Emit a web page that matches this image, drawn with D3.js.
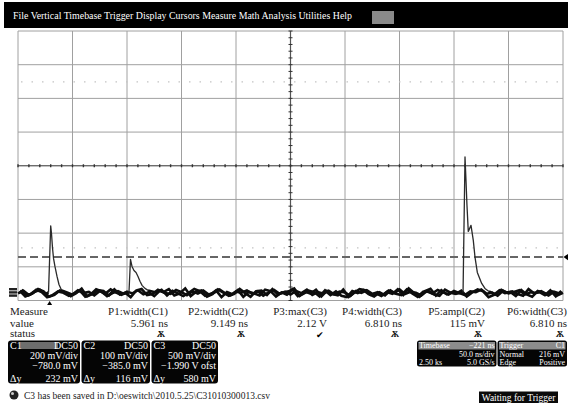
<!DOCTYPE html>
<html>
<head>
<meta charset="utf-8">
<script src="https://cdn.jsdelivr.net/npm/d3@7"></script>
<style>
  html, body { margin: 0; padding: 0; background: #fff; }
  svg { display: block; }
  text { font-family: "Liberation Serif", "Times New Roman", serif; }
</style>
</head>
<body>
<svg id="scope" width="568" height="405"></svg>
<script>
// ---- Menu bar ----
const menuItems = ["File", "Vertical", "Timebase", "Trigger", "Display", "Cursors",
                   "Measure", "Math", "Analysis", "Utilities", "Help"];

// ---- Acquisition settings ----
const timePerDiv = 50;          // ns/div
const divisionsX = 10;
const divisionsY = 8;
const timebaseDelay = -221;     // ns
const sampleStep = 5;           // ns between stored baseline samples
const sampleStart = [0, 1.7, 3.4];  // ns, time of first stored sample per channel

// ---- Channels ----
const channelNames = ["C1", "C2", "C3"];
const channelCoupling = ["DC50", "DC50", "DC50"];
const channelScale = [200, 100, 500];          // mV/div
const channelOffset = [-780, -385, -1990];     // mV
const channelScaleText = ["200 mV/div", "100 mV/div", "500 mV/div"];
const channelOffsetText = ["\u2212780.0 mV", "\u2212385.0 mV", "\u22121.990 V ofst"];
const channelDeltaY = ["232 mV", "116 mV", "580 mV"];

// baseline samples (mV), one every sampleStep ns
const c1Baseline = [22,38,12,30,44,18,26,8,35,28, 15,40,24,31,10,36,20,46,27,14,
                    33,22,41,17,29,6,37,25,19,43, 30,12,34,21,39,16,27,45,23,11,
                    32,26,40,18,35,9,28,42,20,31, 15,37,24,44,13,30,22,38,17,33,
                    27,7,36,25,41,19,29,14,39,23, 46,18,32,26,10,35,21,43,28,16,
                    37,24,12,34,30,45,20,27,9,38, 22,31,41,15,29,25,36,18,33,11, 26];
const c2Baseline = [14,-3,4,17,10,-5,1,12,8,-1, 6,15,-4,3,18,11,-2,7,13,5,
                    -3,16,12,2,-4,9,17,0,14,6, -2,8,19,13,-1,3,15,-5,10,4,
                    16,-4,11,6,0,17,13,-3,9,2, 18,-2,5,14,10,-3,15,1,12,-1,
                    -5,13,7,16,4,-3,9,0,15,5, 1,18,6,-4,11,13,3,-1,17,8,
                    5,14,-3,9,18,12,-5,2,15,7, 10,-2,16,3,-4,13,8,0,11,6, 7];
const c3Baseline = [150,60,95,160,125,45,75,140,110,55, 100,165,50,90,145,130,65,155,80,105,
                    40,135,160,70,85,150,115,158,65,95, 170,55,120,140,48,85,155,105,60,90,
                    162,100,45,128,138,72,158,80,112,125, 168,58,118,92,148,52,132,86,66,152,
                    42,104,160,144,74,96,56,116,88,156, 70,170,102,46,130,164,62,142,82,112,
                    94,146,166,50,120,136,44,78,150,108, 124,86,60,160,98,114,68,142,52,132, 100];

// pulse samples [time ns, mV]
const c1Pulse = [[28.0, 28], [30.0, 423], [30.7, 381], [31.7, 289], [32.6, 230],
                 [33.9, 182], [35.8, 123], [37.6, 75], [40.1, 39]];
const c2Pulse = [[101.8, 9], [103.2, 107], [104.6, 86], [106.4, 74], [108.3, 68],
                 [110.1, 56], [111.9, 42], [113.8, 30], [116.5, 21], [119.3, 15]];
const c3Pulse = [[408.3, 109], [410.1, 2120], [411.0, 1774], [411.9, 1403], [413.1, 1016],
                 [414.0, 1046], [415.6, 1105], [417.7, 882], [419.3, 629], [421.4, 406],
                 [425.4, 243], [428.4, 169], [432.1, 124]];

// ---- Markers on the graticule (in divisions) ----
const cursorLevels = [2.49, -2.44];
const triggerMarkerLevel = -2.71;

// ---- Measurements ----
const measureNames = ["P1:width(C1)", "P2:width(C2)", "P3:max(C3)", "P4:width(C3)", "P5:ampl(C2)", "P6:width(C3)"];
const measureValues = ["5.961 ns", "9.149 ns", "2.12 V", "6.810 ns", "115 mV", "6.810 ns"];
const measureStatus = ["warn", "warn", "ok", "warn", "warn", "warn"];

// ---- Timebase / trigger panels ----
const timebaseRows = [["Timebase", "\u2212221 ns"], ["", "50.0 ns/div"], ["2.50 ks", "5.0 GS/s"]];
const triggerRows = [["Trigger", "C1"], ["Normal", "216 mV"], ["Edge", "Positive"]];
const statusMessage = "C3 has been saved in D:\\oeswitch\\2010.5.25\\C31010300013.csv";
const acquisitionState = "Waiting for Trigger";

// ================= drawing =================
const svg = d3.select("#scope");

const gx0 = 18, gx1 = 563, gy0 = 31, gy1 = 300.5;
const x = d3.scaleLinear().domain([0, timePerDiv * divisionsX]).range([gx0, gx1]);
const yDiv = d3.scaleLinear().domain([-divisionsY / 2, divisionsY / 2]).range([gy1, gy0]);

// menu bar
svg.append("rect").attr("x", 4).attr("y", 2).attr("width", 564).attr("height", 26).attr("fill", "#000");
svg.append("text").attr("x", 13).attr("y", 19).attr("fill", "#fff").attr("font-size", 10.5)
  .attr("textLength", 339).attr("lengthAdjust", "spacingAndGlyphs")
  .text(menuItems.join(" "));
svg.append("rect").attr("x", 372).attr("y", 11).attr("width", 22).attr("height", 13).attr("fill", "#8a8a8a");

// graticule
const grid = svg.append("g");
const xDivs = d3.range(0, divisionsX + 1).map(i => i * timePerDiv);
const yDivs = d3.range(-divisionsY / 2, divisionsY / 2 + 1);
grid.selectAll("line.v").data(xDivs).join("line")
  .attr("x1", d => x(d)).attr("x2", d => x(d)).attr("y1", gy0).attr("y2", gy1)
  .attr("stroke", "#a0a0a0").attr("stroke-width", 1);
grid.selectAll("line.h").data(yDivs).join("line")
  .attr("x1", gx0).attr("x2", gx1).attr("y1", d => yDiv(d)).attr("y2", d => yDiv(d))
  .attr("stroke", "#a0a0a0").attr("stroke-width", 1);

// cursor lines
grid.selectAll("line.cur").data(cursorLevels).join("line")
  .attr("x1", gx0 + 3).attr("x2", gx1).attr("y1", d => yDiv(d)).attr("y2", d => yDiv(d))
  .attr("stroke", "#c4c4c4").attr("stroke-width", 1.2).attr("stroke-dasharray", "1.5,9");

// centre axes with minor ticks
const cx = x(timePerDiv * divisionsX / 2), cy = yDiv(0);
grid.append("line").attr("x1", cx).attr("x2", cx).attr("y1", gy0).attr("y2", gy1)
  .attr("stroke", "#555").attr("stroke-width", 1.2);
grid.append("line").attr("x1", gx0).attr("x2", gx1).attr("y1", cy).attr("y2", cy)
  .attr("stroke", "#555").attr("stroke-width", 1.2);
const yMinor = d3.range(-divisionsY / 2 * 5, divisionsY / 2 * 5 + 1).map(k => k / 5);
grid.selectAll("line.ty").data(yMinor).join("line")
  .attr("x1", cx - 2).attr("x2", cx + 2).attr("y1", d => yDiv(d)).attr("y2", d => yDiv(d))
  .attr("stroke", "#333").attr("stroke-width", 1);
const xMinor = d3.range(0, divisionsX * 5 + 1).map(k => k * timePerDiv / 5);
grid.selectAll("line.tx").data(xMinor).join("line")
  .attr("x1", d => x(d)).attr("x2", d => x(d)).attr("y1", cy - 1.5).attr("y2", cy + 1.5)
  .attr("stroke", "#333").attr("stroke-width", 1.4);

// trigger level marker line
svg.append("line").attr("x1", gx0).attr("x2", gx1)
  .attr("y1", yDiv(triggerMarkerLevel)).attr("y2", yDiv(triggerMarkerLevel))
  .attr("stroke", "#666").attr("stroke-width", 2).attr("stroke-dasharray", "8,4");
svg.append("path")
  .attr("d", `M${gx1 + 0.5},${yDiv(triggerMarkerLevel)} l5,-3.5 v7 z`).attr("fill", "#000");

// traces: noisy baseline drawn heavier, pulse edges drawn thin
const baselines = [c1Baseline, c2Baseline, c3Baseline];
const pulses = [c1Pulse, c2Pulse, c3Pulse];
const traceLine = d3.line().x(d => x(d[0])).y(d => d[1]);
channelNames.forEach((name, ci) => {
  const pulse = pulses[ci];
  const toPx = d => [d[0], yDiv((d[1] + channelOffset[ci]) / channelScale[ci])];
  const tStart = pulse[0][0] - 2.5, tEnd = pulse[pulse.length - 1][0] + 2.5;
  const tMax = timePerDiv * divisionsX;
  const base = baselines[ci].map((v, i) => [sampleStart[ci] + i * sampleStep, v])
    .filter(d => d[0] <= tMax);
  const pre = base.filter(d => d[0] < tStart).concat([pulse[0]]);
  const post = [pulse[pulse.length - 1]].concat(base.filter(d => d[0] > tEnd));
  [pre, post].forEach(seg => {
    svg.append("path").attr("d", traceLine(seg.map(toPx))).attr("fill", "none")
      .attr("stroke", "#0d0d0d").attr("stroke-width", 2.6).attr("stroke-linejoin", "miter");
  });
  svg.append("path").attr("d", traceLine(pulse.map(toPx))).attr("fill", "none")
    .attr("stroke", "#2a2a2a").attr("stroke-width", 1.3).attr("stroke-linejoin", "round");
});

// channel ground markers at left edge
channelNames.forEach((name, ci) => {
  svg.append("rect").attr("x", 9).attr("y", 288 + ci * 3.2).attr("width", 8).attr("height", 2.4)
    .attr("fill", "#222");
});

// trigger position marker
const trigTime = timePerDiv * divisionsX / 2 + timebaseDelay;
svg.append("path").attr("d", `M${x(trigTime)},${gy1 + 0.5} l-2.5,4 h5 z`).attr("fill", "#000");

// measurement table
const mRows = [["Measure", 315], ["value", 326.5], ["status", 337]];
mRows.forEach(r => svg.append("text").attr("x", 10).attr("y", r[1]).attr("font-size", 11)
  .attr("fill", "#222").text(r[0]));
const mRight = [168, 248, 327, 402, 485, 567];
measureNames.forEach((n, i) => {
  svg.append("text").attr("x", mRight[i]).attr("y", 315).attr("text-anchor", "end")
    .attr("font-size", 11).attr("fill", "#222").text(n);
  svg.append("text").attr("x", mRight[i]).attr("y", 327).attr("text-anchor", "end")
    .attr("font-size", 11).attr("fill", "#222").text(measureValues[i]);
  const sx = mRight[i] - 7;
  if (measureStatus[i] === "ok") {
    svg.append("text").attr("x", sx).attr("y", 337.5).attr("text-anchor", "middle")
      .attr("font-family", "DejaVu Sans").attr("font-size", 9).attr("fill", "#000").text("\u2714");
  } else {
    svg.append("text").attr("x", sx).attr("y", 337).attr("text-anchor", "middle")
      .attr("font-family", "DejaVu Sans").attr("font-size", 8.5).attr("font-weight", "bold")
      .attr("fill", "#111").text("\u046A");
  }
});

// channel descriptor boxes
const boxX = [8, 81.5, 151.5], boxW = [72, 68.5, 66.5];
channelNames.forEach((name, ci) => {
  const g = svg.append("g").attr("transform", `translate(${boxX[ci]},340.5)`);
  const w = boxW[ci];
  g.append("rect").attr("width", w).attr("height", 43).attr("rx", 3).attr("fill", "#050505");
  if (ci === 0) {
    g.append("rect").attr("x", 12).attr("y", 1.5).attr("width", 38).attr("height", 7).attr("fill", "#6e6e6e");
  }
  const t = (s, xx, yy, anchor) => g.append("text").attr("x", xx).attr("y", yy)
    .attr("text-anchor", anchor).attr("font-size", 10).attr("fill", "#fff").text(s);
  t(name, 2, 8, "start");
  t(channelCoupling[ci], w - 2, 8, "end");
  t(channelScaleText[ci], w - 2, 18, "end");
  t(channelOffsetText[ci], w - 2, 28, "end");
  t("\u0394y", 2, 41, "start");
  t(channelDeltaY[ci], w - 2, 41, "end");
});

// timebase and trigger panels
function panel(x0, w, rows) {
  const g = svg.append("g").attr("transform", `translate(${x0},340.5)`);
  g.append("rect").attr("width", w).attr("height", 26).attr("rx", 2.5).attr("fill", "#050505");
  g.append("rect").attr("x", 1.5).attr("y", 1.5).attr("width", w - 3).attr("height", 7.5).attr("fill", "#8c8c8c");
  rows.forEach((r, i) => {
    const yy = 7.8 + i * 8.4;
    if (r[0]) g.append("text").attr("x", 2).attr("y", yy).attr("font-size", 8).attr("fill", "#fff").text(r[0]);
    g.append("text").attr("x", w - 2).attr("y", yy).attr("text-anchor", "end")
      .attr("font-size", 8).attr("fill", "#fff").text(r[1]);
  });
}
panel(417, 79.5, timebaseRows);
panel(497.5, 69.5, triggerRows);

// acquisition state
svg.append("rect").attr("x", 479).attr("y", 391.5).attr("width", 79).attr("height", 11.5).attr("fill", "#0a0a0a");
svg.append("text").attr("x", 518.5).attr("y", 400.5).attr("text-anchor", "middle")
  .attr("font-size", 9.5).attr("fill", "#fff").text(acquisitionState);

// status line
svg.append("circle").attr("cx", 14).attr("cy", 395).attr("r", 4.5).attr("fill", "#222");
svg.append("circle").attr("cx", 12.5).attr("cy", 393.5).attr("r", 1.5).attr("fill", "#ccc");
svg.append("text").attr("x", 24).attr("y", 399).attr("font-size", 10).attr("fill", "#222")
  .attr("textLength", 246).attr("lengthAdjust", "spacingAndGlyphs").text(statusMessage);
</script>
</body>
</html>
